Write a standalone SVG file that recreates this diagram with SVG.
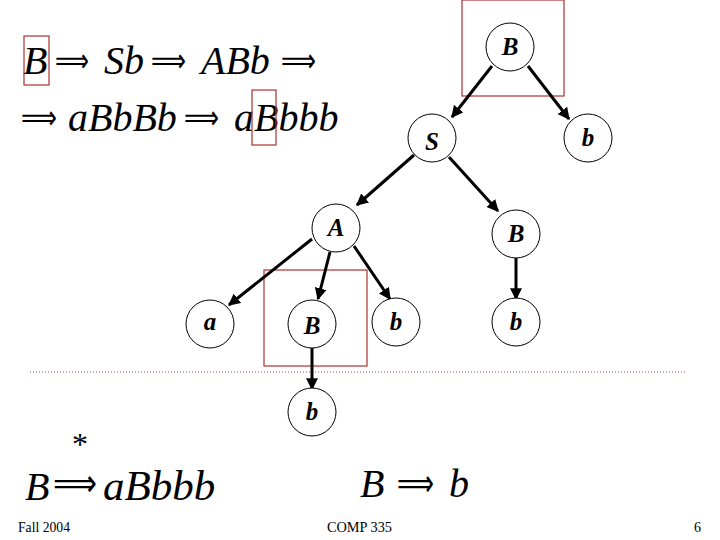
<svg xmlns="http://www.w3.org/2000/svg" width="720" height="540" viewBox="0 0 720 540">
<style>
.nd circle{fill:#fff;stroke:#000;stroke-width:1}
.box{fill:none;stroke:#b03030;stroke-width:1.2}
#edges line{stroke:#000;stroke-width:3;marker-end:url(#ah)}
</style>
<defs>
<marker id="ah" viewBox="0 0 10 10" refX="9" refY="5" markerWidth="4" markerHeight="4" orient="auto" markerUnits="strokeWidth">
<path d="M0,0 L10,5 L0,10 z" fill="#000"/>
</marker>
</defs>
<rect width="720" height="540" fill="#fff"/>
<g font-family="Liberation Serif, serif" font-style="italic" font-size="40" fill="#000">
<text x="23" y="74">B</text>
<text x="104" y="74">Sb</text>
<text x="201" y="74">ABb</text>
<text x="68" y="131">aBbBb</text>
<text x="234" y="131">aBbbb</text>
</g>
<g font-family="DejaVu Sans, sans-serif" font-size="34" fill="#000">
<text x="55" y="72" textLength="34" lengthAdjust="spacingAndGlyphs">⟹</text>
<text x="151" y="72" textLength="35" lengthAdjust="spacingAndGlyphs">⟹</text>
<text x="281" y="72" textLength="35" lengthAdjust="spacingAndGlyphs">⟹</text>
<text x="21" y="129" textLength="36" lengthAdjust="spacingAndGlyphs">⟹</text>
<text x="184" y="129" textLength="35" lengthAdjust="spacingAndGlyphs">⟹</text>
</g>
<rect class="box" x="24" y="36" width="25" height="49"/>
<rect class="box" x="252" y="90" width="24" height="55"/>
<rect class="box" x="462" y="0" width="102" height="96"/>
<rect class="box" x="264" y="270" width="103" height="96"/>
<line x1="30" y1="372" x2="686" y2="372" stroke="#a05050" stroke-width="1" stroke-dasharray="1,2"/>
<g id="edges">
<line x1="492" y1="66" x2="452" y2="117"/>
<line x1="528" y1="66" x2="569" y2="119"/>
<line x1="414" y1="155" x2="357" y2="205"/>
<line x1="449" y1="157" x2="498" y2="211"/>
<line x1="312" y1="239" x2="229" y2="305"/>
<line x1="330" y1="252" x2="318" y2="299"/>
<line x1="354" y1="246" x2="390" y2="299"/>
<line x1="516" y1="258" x2="516" y2="299"/>
<line x1="312" y1="348" x2="312" y2="389"/>
</g>
<g font-family="Liberation Serif, serif" font-style="italic" font-weight="bold" font-size="25" text-anchor="middle" fill="#000">
<g id="nB" class="nd"><circle cx="510" cy="47" r="24"/><text x="510" y="55">B</text></g>
<g id="nb1" class="nd"><circle cx="588" cy="138" r="24"/><text x="588" y="146">b</text></g>
<g id="nS" class="nd"><circle cx="432" cy="138" r="24"/><text x="432" y="150">S</text></g>
<g id="nA" class="nd"><circle cx="336" cy="228" r="24"/><text x="336" y="236">A</text></g>
<g id="nB2" class="nd"><circle cx="516" cy="234" r="24"/><text x="516" y="242">B</text></g>
<g id="na" class="nd"><circle cx="210" cy="324" r="24"/><text x="210" y="330">a</text></g>
<g id="nB3" class="nd"><circle cx="312" cy="324" r="24"/><text x="312" y="334">B</text></g>
<g id="nb2" class="nd"><circle cx="396" cy="322" r="24"/><text x="396" y="330">b</text></g>
<g id="nb3" class="nd"><circle cx="516" cy="322" r="24"/><text x="516" y="330">b</text></g>
<g id="nb4" class="nd"><circle cx="312" cy="412" r="24"/><text x="312" y="420">b</text></g>
</g>
<text x="72" y="455" font-family="Liberation Serif, serif" font-size="32">*</text>
<g font-family="Liberation Serif, serif" font-style="italic" font-size="40" fill="#000">
<text x="25" y="500">B</text>
<text x="103" y="500" font-size="43">aBbbb</text>
<text x="360" y="497">B</text>
<text x="449" y="497">b</text>
</g>
<g font-family="DejaVu Sans, sans-serif" font-size="38" fill="#000">
<text x="53" y="496" textLength="44" lengthAdjust="spacingAndGlyphs">⟹</text>
<text x="397" y="496" textLength="37" lengthAdjust="spacingAndGlyphs">⟹</text>
</g>
<g font-family="Liberation Serif, serif" font-size="14" fill="#000">
<text x="18" y="532" textLength="52" lengthAdjust="spacingAndGlyphs">Fall 2004</text>
<text x="327" y="532" textLength="65" lengthAdjust="spacingAndGlyphs">COMP 335</text>
<text x="694" y="532">6</text>
</g>
</svg>
